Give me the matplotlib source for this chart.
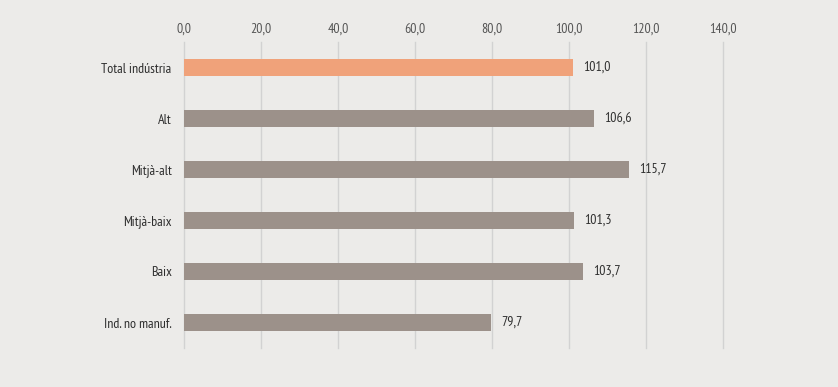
import matplotlib
matplotlib.use("Agg")
import matplotlib.pyplot as plt
from matplotlib import font_manager

categories = ["Total indústria", "Alt", "Mitjà-alt", "Mitjà-baix", "Baix", "Ind. no manuf."]
values = [101.0, 106.6, 115.7, 101.3, 103.7, 79.7]
xticks = [0, 20, 40, 60, 80, 100, 120, 140]

# condensed font similar to the original
names = {f.name for f in font_manager.fontManager.ttflist}
family = "DejaVu Sans"
for cand in ["PT Sans Narrow", "Fira Sans Condensed", "Asap Condensed",
             "Roboto Condensed", "Open Sans Condensed", "Liberation Sans Narrow"]:
    if cand in names:
        family = cand
        break
plt.rcParams["font.family"] = [family, "DejaVu Sans"]

bg = "#ecebe9"
text_col = "#2e2e2e"
colors = ["#f0a27a"] + ["#9c918a"] * (len(values) - 1)

fig = plt.figure(figsize=(8.38, 3.87), dpi=100, facecolor=bg)
ax = fig.add_axes([184 / 838, 1 - 348 / 387, (723 - 184) / 838, (348 - 42) / 387])
ax.set_facecolor(bg)

ypos = list(range(len(categories)))
ax.barh(ypos, values, height=0.33, color=colors, zorder=3)
for y, v in zip(ypos, values):
    ax.text(v + 2.6, y, "{:.1f}".format(v).replace(".", ","), va="center", ha="left",
            fontsize=10, color=text_col)

ax.set_xlim(0, 140)
ax.set_ylim(len(categories) - 0.5, -0.5)
ax.set_xticks(xticks)
ax.set_xticklabels(["{:.1f}".format(t).replace(".", ",") for t in xticks])
ax.set_yticks(ypos)
ax.set_yticklabels(categories)
ax.xaxis.tick_top()
ax.tick_params(axis="x", length=0, pad=4.5, labelsize=10, labelcolor="#555555")
ax.tick_params(axis="y", length=0, pad=9, labelsize=10, labelcolor=text_col)
ax.grid(axis="x", color="#d2d2d2", linewidth=1, zorder=0)
ax.grid(axis="y", visible=False)
for gl in ax.get_xgridlines():
    gl.set_clip_on(False)
for s in ax.spines.values():
    s.set_visible(False)

fig.savefig("out.png", dpi=100, facecolor=bg)
